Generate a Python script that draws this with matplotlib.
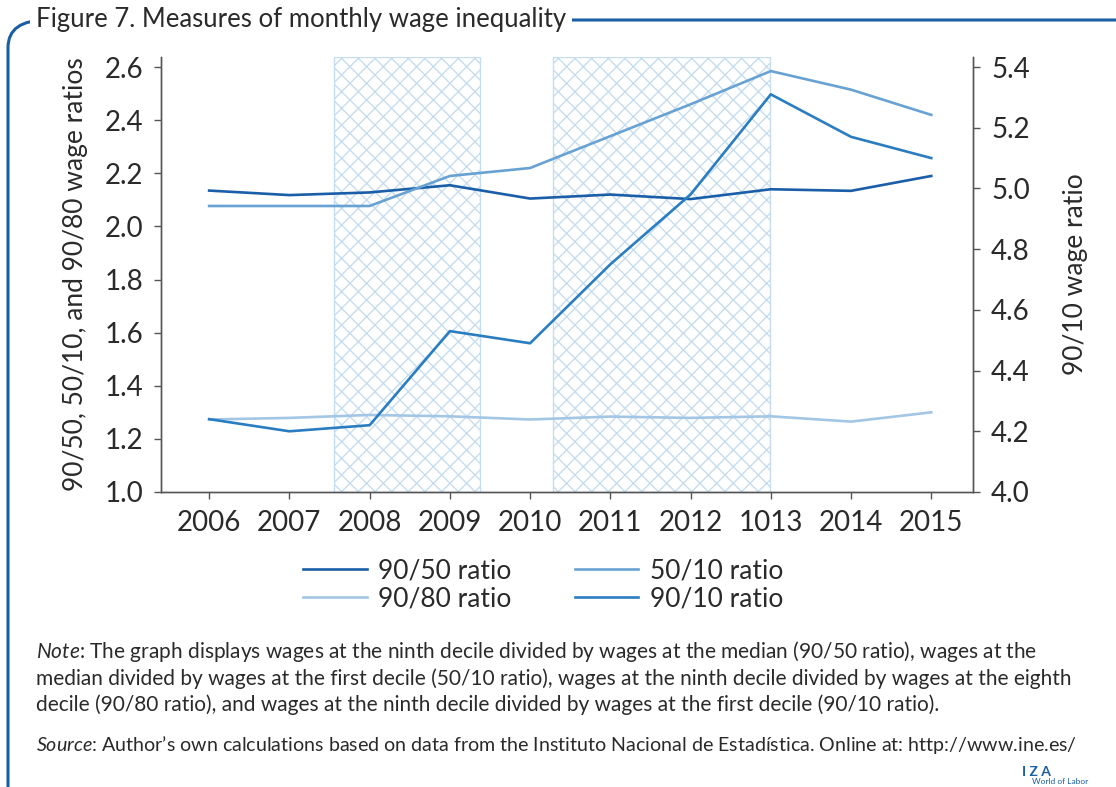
import matplotlib
matplotlib.use('Agg')
import matplotlib.pyplot as plt
from matplotlib.patches import FancyBboxPatch

plt.rcParams['font.family'] = ['Lato', 'DejaVu Sans']
plt.rcParams['mathtext.fontset'] = 'custom'
plt.rcParams['mathtext.rm'] = 'Lato'
plt.rcParams['mathtext.it'] = 'Lato:italic'
plt.rcParams['hatch.linewidth'] = 1.0

years = ['2006', '2007', '2008', '2009', '2010', '2011', '2012', '1013', '2014', '2015']
ratio_90_50 = [2.135, 2.118, 2.128, 2.155, 2.105, 2.12, 2.103, 2.14, 2.134, 2.19]
ratio_50_10 = [2.077, 2.077, 2.077, 2.19, 2.22, 2.34, 2.46, 2.585, 2.515, 2.42]
ratio_90_80 = [1.273, 1.279, 1.29, 1.285, 1.273, 1.284, 1.279, 1.285, 1.265, 1.30]
ratio_90_10 = [4.24, 4.20, 4.22, 4.53, 4.49, 4.75, 4.98, 5.31, 5.17, 5.10]

# recession periods (in category index units)
shaded = [(1.55, 3.38), (4.29, 6.99)]

c_9050 = '#1a5ea8'
c_5010 = '#68a2d3'
c_9080 = '#a3c6e5'
c_9010 = '#2a7dc0'
frame_blue = '#1a5fa5'
text_col = '#2a2a2a'

fig = plt.figure(figsize=(11.16, 7.87), dpi=100)
ax = fig.add_axes([161/1116, 1-492/787, (973-161)/1116, (492-57)/787])
ax2 = ax.twinx()

x = list(range(len(years)))
for a, b in shaded:
    ax.axvspan(a, b, facecolor='none', edgecolor='#c6ddef', hatch='xx', lw=1.0, zorder=0)

l1, = ax.plot(x, ratio_90_50, color=c_9050, lw=1.9, label='90/50 ratio')
l2, = ax.plot(x, ratio_50_10, color=c_5010, lw=1.9, label='50/10 ratio')
l3, = ax.plot(x, ratio_90_80, color=c_9080, lw=1.9, label='90/80 ratio')
l4, = ax2.plot(x, ratio_90_10, color=c_9010, lw=1.9, label='90/10 ratio')

ax.set_xlim(-0.6, 9.52)
ax.set_ylim(1.0, 2.638)
ax2.set_ylim(4.0, 5.433)
ax.set_yticks([1.0, 1.2, 1.4, 1.6, 1.8, 2.0, 2.2, 2.4, 2.6])
ax2.set_yticks([4.0, 4.2, 4.4, 4.6, 4.8, 5.0, 5.2, 5.4])
ax.set_xticks(x)
ax.set_xticklabels(years)

for a in (ax, ax2):
    a.spines['top'].set_visible(False)
    for s in a.spines.values():
        s.set_color('#555555')
        s.set_linewidth(1.0)
    a.tick_params(labelsize=20, colors='#555555', labelcolor=text_col, length=5, width=1, pad=8)
ax.yaxis.set_major_formatter(matplotlib.ticker.FormatStrFormatter('%.1f'))
ax2.yaxis.set_major_formatter(matplotlib.ticker.FormatStrFormatter('%.1f'))
ax.set_ylabel('90/50, 50/10, and 90/80 wage ratios', fontsize=19, color=text_col, labelpad=12)
ax2.set_ylabel('90/10 wage ratio', fontsize=19, color=text_col, labelpad=24)
ax.patch.set_visible(False)

fig.legend(handles=[l1, l3, l2, l4], loc='center', bbox_to_anchor=(0.487, 1-585/787),
           ncol=2, frameon=False, fontsize=19, handlelength=2.4, handletextpad=0.45,
           columnspacing=2.4, labelspacing=0.12, labelcolor=text_col)

# frame with rounded corners
frame = FancyBboxPatch((8/1116, -0.05), 1.2, 1-20/787+0.05,
                       boxstyle='round,pad=0,rounding_size=0.035', transform=fig.transFigure,
                       facecolor='none', edgecolor=frame_blue, lw=2.2, zorder=0)
fig.patches.append(frame)
fig.text(36/1116, 1-20/787, 'Figure 7. Measures of monthly wage inequality', fontsize=18.5,
         color=text_col, va='center', ha='left',
         bbox=dict(facecolor='white', edgecolor='none', pad=4))

note_lines = [
    r'$\mathit{Note}$: The graph displays wages at the ninth decile divided by wages at the median (90/50 ratio), wages at the',
    'median divided by wages at the first decile (50/10 ratio), wages at the ninth decile divided by wages at the eighth',
    'decile (90/80 ratio), and wages at the ninth decile divided by wages at the first decile (90/10 ratio).',
]
for i, line in enumerate(note_lines):
    fig.text(36/1116, 1-(652+26.3*i)/787, line, fontsize=15, color=text_col, va='center', ha='left')
fig.text(36/1116, 1-745/787,
         r'$\mathit{Source}$: Author’s own calculations based on data from the Instituto Nacional de Estadística. Online at: http://www.ine.es/',
         fontsize=14.1, color=text_col, va='center', ha='left')
fig.text(1036/1116, 1-772/787, 'I Z A', fontsize=10, color=frame_blue, weight='bold', ha='center', va='center')
fig.text(1060/1116, 1-782/787, 'World of Labor', fontsize=6, color=frame_blue, ha='center', va='center')

fig.savefig('out.png', dpi=100)
